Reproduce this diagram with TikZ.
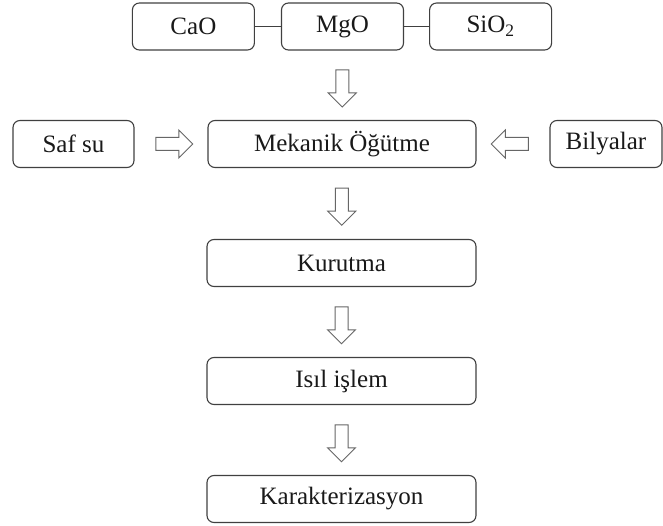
\documentclass[tikz,border=0pt]{standalone}
\usepackage{fontspec}
\setmainfont{Liberation Serif}
\usepackage{tikz}
\usetikzlibrary{positioning, calc, shapes.arrows}
\newcommand\Brd{black!75}

\begin{document}
\begin{tikzpicture}[x=1pt, y=-1pt,
    kutu/.style = {draw=\Brd, line width=1.1pt, rounded corners=7pt, minimum height=47pt,
                   inner sep=0pt, font=\fontsize{25}{30}\selectfont, text=black!90},
    okblok/.style = {single arrow, draw=black!60, line width=1pt, inner sep=6pt,
                     minimum height=37pt, single arrow head extend=7.5pt},
    baglanti/.style = {draw=\Brd, line width=1.1pt}]
    \useasboundingbox (0,0) rectangle (663,526);

    % hammaddeler
    \node [kutu, minimum width=122pt] (mgo) at (342.5,26.5) {MgO};
    \node [kutu, minimum width=122pt, left=26pt of mgo] (cao) {CaO};
    \node [kutu, minimum width=122pt, right=25pt of mgo] (sio) {SiO\textsubscript{2}};
    \draw [baglanti] (cao) -- (mgo);
    \draw [baglanti] (mgo) -- (sio);

    % proses adimlari
    \node [kutu, minimum width=268pt] (mek) at (342,144) {Mekanik Öğütme};
    \node [kutu, minimum width=121pt] (saf) at (73.5,144) {Saf su};
    \node [kutu, minimum width=112pt] (bil) at (606,144) {Bilyalar};
    \node [kutu, minimum width=269pt] (kur) at (341.5,263) {Kurutma};
    \node [kutu, minimum width=269pt] (isil) at (341.5,381) {Isıl işlem};
    \node [kutu, minimum width=269pt] (kar) at (341.5,499) {Karakterizasyon};

    % oklar
    \foreach \u/\v in {mgo/mek, mek/kur, kur/isil, isil/kar}{
      \node [okblok, shape border rotate=270] (ok\v) at ($(\u.south)!0.5!(\v.north)$) {};
    }
    \node [okblok] (oksaf) at ($(saf.east)!0.5!(mek.west)$) {};
    \node [okblok, shape border rotate=180] (okbil) at ($(mek.east)!0.5!(bil.west)$) {};
\end{tikzpicture}
\end{document}
